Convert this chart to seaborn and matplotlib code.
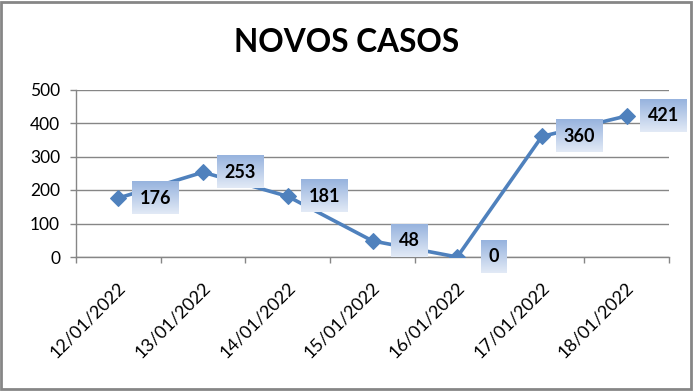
import numpy as np
import pandas as pd
import matplotlib
matplotlib.use("Agg")
import matplotlib.pyplot as plt
import matplotlib.transforms as mtransforms
from matplotlib.patches import Rectangle
from matplotlib.colors import LinearSegmentedColormap
import seaborn as sns

# data
datas = ['12/01/2022', '13/01/2022', '14/01/2022', '15/01/2022',
         '16/01/2022', '17/01/2022', '18/01/2022']
casos = [176, 253, 181, 48, 0, 360, 421]
yticks = [0, 100, 200, 300, 400, 500]

sns.set_theme(style="white")
plt.rcParams['font.family'] = ['Lato', 'DejaVu Sans']
plt.rcParams['text.color'] = 'black'
plt.rcParams['xtick.color'] = 'black'
plt.rcParams['ytick.color'] = 'black'

df = pd.DataFrame({'pos': np.arange(len(datas)), 'casos': casos})

fig = plt.figure(figsize=(6.94, 3.91), dpi=100)
ax = fig.add_axes([76 / 694, 1 - 257 / 391, (669 - 76) / 694, (257 - 89.5) / 391])

# moldura cinza do gráfico
fig.patches.append(Rectangle((0.002, 0.004), 0.993, 0.99, transform=fig.transFigure,
                             fill=False, edgecolor='#868686', linewidth=2))

sns.lineplot(data=df, x='pos', y='casos', ax=ax, color='#4F81BD', linewidth=2.6,
             marker='D', markersize=8, markeredgecolor='#4F81BD', zorder=3)

ax.set_xlim(-0.5, len(datas) - 0.5)
ax.set_ylim(0, 500)
ax.set_yticks(yticks)
ax.set_xticks(df['pos'])
ax.set_xticklabels(datas, rotation=45, ha='right', rotation_mode='anchor', fontsize=13)
ax.set_xticks(np.arange(-0.5, len(datas)), minor=True)
ax.tick_params(axis='x', which='major', length=0, pad=14)
ax.tick_params(axis='x', which='minor', length=4, width=1, color='#868686', direction='out', bottom=True)
ax.tick_params(axis='y', length=4.5, width=1, color='#868686', labelcolor='black',
                direction='out', left=True, labelsize=12.5, pad=7)
shift = mtransforms.ScaledTranslation(-1 / 100, -3 / 100, fig.dpi_scale_trans)
for lbl in ax.get_xticklabels():
    lbl.set_transform(lbl.get_transform() + shift)
ax.grid(axis='y', color='#868686', linewidth=1)
ax.set_axisbelow(True)
for s in ['top', 'right']:
    ax.spines[s].set_visible(False)
for s in ['left', 'bottom']:
    ax.spines[s].set_color('#868686')
    ax.spines[s].set_linewidth(1)
ax.set_xlabel('')
ax.set_ylabel('')

fig.text(0.5, 1 - 42 / 391, 'NOVOS CASOS', ha='center', va='center', fontsize=22.8,
         fontweight='bold', color='black')

# rótulos de dados com caixa em degradê
labels = []
for x, y in zip(df['pos'], df['casos']):
    t = ax.annotate(str(y), (x, y), xytext=(37, 0), textcoords='offset pixels',
                    ha='center', va='center', fontsize=13, fontweight='bold', zorder=6,
                    annotation_clip=False, color='black',
                    bbox=dict(boxstyle='square,pad=0.42', facecolor='none', edgecolor='none'))
    labels.append(t)

fig.canvas.draw()
cmap = LinearSegmentedColormap.from_list('grad', ['#E2EAF6', '#97B3DE'])
grad = np.linspace(0, 1, 64).reshape(-1, 1)
inv = ax.transData.inverted()
for t in labels:
    bb = t.get_bbox_patch().get_window_extent()
    (x0, y0), (x1, y1) = inv.transform([[bb.x0, bb.y0], [bb.x1, bb.y1]])
    ax.imshow(grad, extent=[x0, x1, y0, y1], origin='lower', cmap=cmap, aspect='auto',
              zorder=5, clip_on=False, interpolation='bilinear')
ax.set_xlim(-0.5, len(datas) - 0.5)
ax.set_ylim(0, 500)

fig.savefig('out.png', dpi=100)
